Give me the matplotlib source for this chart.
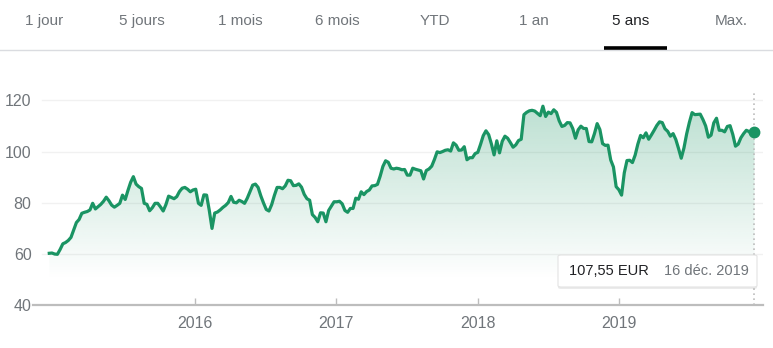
import matplotlib
matplotlib.use('Agg')
import matplotlib.pyplot as plt
import matplotlib.dates as mdates
from matplotlib.patches import FancyBboxPatch
from matplotlib.lines import Line2D
import numpy as np
import pandas as pd

plt.rcParams['font.family'] = ['Liberation Sans', 'DejaVu Sans']

# onglets de période
tabs = ['1 jour', '5 jours', '1 mois', '6 mois', 'YTD', '1 an', '5 ans', 'Max.']
active_tab = '5 ans'

# cours hebdomadaire (EUR)
prices = [
    60.3, 60.4, 60.0, 59.9, 61.8, 64.0, 64.5, 65.3, 66.5, 69.4,
    72.3, 73.5, 75.9, 76.3, 76.6, 77.2, 79.8, 77.6, 78.5, 79.4,
    80.6, 82.2, 80.8, 79.1, 78.3, 79.0, 79.8, 83.0, 81.3, 84.8,
    88.0, 90.2, 87.3, 86.3, 85.6, 79.8, 79.4, 76.9, 78.1, 79.8,
    79.8, 78.4, 76.8, 79.3, 82.6, 82.1, 81.6, 82.4, 84.4, 85.7,
    86.0, 85.3, 84.3, 85.0, 85.3, 79.8, 79.0, 83.1, 83.0, 77.0,
    70.0, 76.0, 76.4, 77.2, 78.2, 79.0, 80.1, 82.5, 80.2, 80.0,
    81.0, 80.5, 79.8, 81.8, 84.3, 86.9, 87.3, 86.0, 82.7, 79.9,
    77.4, 76.8, 79.3, 82.9, 86.0, 86.0, 85.5, 86.6, 88.8, 88.6,
    86.7, 86.8, 87.4, 86.1, 83.3, 81.6, 81.0, 75.4, 74.3, 72.6,
    76.1, 76.0, 72.6, 77.0, 78.7, 80.4, 80.4, 80.6, 79.6, 77.0,
    76.3, 77.8, 77.8, 81.8, 81.4, 84.3, 83.2, 84.4, 85.0, 86.6,
    86.7, 87.2, 90.4, 94.2, 96.4, 95.8, 93.5, 93.2, 93.5, 93.3,
    92.9, 93.0, 90.8, 90.8, 93.5, 93.1, 92.8, 92.5, 89.3, 92.6,
    93.2, 94.3, 96.9, 99.9, 99.6, 100.0, 100.5, 100.7, 100.2, 103.4,
    102.5, 100.5, 100.6, 101.9, 96.8, 97.6, 97.6, 99.2, 99.7, 102.8,
    106.2, 108.1, 106.6, 103.0, 98.7, 104.2, 99.5, 104.0, 106.0, 105.2,
    103.5, 101.7, 102.6, 104.3, 104.8, 114.4, 115.3, 115.9, 116.1, 115.8,
    114.9, 114.0, 117.7, 113.7, 115.4, 114.8, 116.3, 115.3, 112.0, 109.8,
    110.2, 111.3, 111.2, 109.0, 105.2, 108.5, 109.9, 109.0, 109.0, 103.9,
    103.8, 107.0, 110.9, 108.6, 103.1, 102.4, 102.5, 96.7, 94.0, 86.3,
    85.1, 83.0, 91.7, 96.5, 96.6, 95.7, 98.6, 102.9, 106.3, 105.4,
    107.3, 104.8, 106.5, 108.3, 110.2, 111.6, 111.3, 108.9, 107.9, 106.0,
    107.0, 104.7, 101.2, 97.4, 101.4, 106.9, 111.4, 115.2, 114.4, 114.5,
    114.6, 112.5, 110.0, 105.6, 106.4, 111.2, 113.0, 108.3, 108.3, 107.7,
    109.8, 110.1, 106.7, 102.1, 102.9, 105.4, 107.0, 108.3, 107.8, 106.7,
    107.55,
]
dates = pd.date_range(end='2019-12-16', periods=len(prices), freq='W-MON')

y_ticks = [40, 60, 80, 100, 120]
x_years = [2016, 2017, 2018, 2019]
months_fr = ['janv.', 'févr.', 'mars', 'avr.', 'mai', 'juin', 'juil.',
             'août', 'sept.', 'oct.', 'nov.', 'déc.']

green = '#1a9463'
grey_txt = '#70757a'
dark_txt = '#202124'

W, H = 773, 348
fig = plt.figure(figsize=(W / 100, H / 100), dpi=100)

# --- onglets ---
tab_x = [44, 142, 240, 337, 435, 534, 631, 731]
for t, x in zip(tabs, tab_x):
    fig.text(x / W, 1 - 21 / H, t, ha='center', va='center', fontsize=11,
             color=dark_txt if t == active_tab else grey_txt)
fig.add_artist(Line2D([0, 1], [1 - 49.5 / H] * 2, color='#dadce0', lw=1))
fig.add_artist(Line2D([604 / W, 667 / W], [1 - 47.5 / H] * 2, color='black', lw=2.6,
                      solid_capstyle='butt'))

# --- graphique ---
ax = fig.add_axes([33 / W, (H - 305.3) / H, (763 - 33) / W, (305.3 - 87.5) / H])
x = mdates.date2num(dates)
y = np.array(prices)
ax.set_xlim(mdates.date2num(pd.Timestamp('2014-11-10')),
            mdates.date2num(pd.Timestamp('2020-01-07')))
ax.set_ylim(40, 125)

for v in y_ticks[1:]:
    ax.axhline(v, xmin=0.012, color='#f1f1f1', lw=1, zorder=0)

# dégradé sous la courbe
poly = ax.fill_between(x, y, 40, color='none', lw=0)
grad = np.zeros((200, 2, 4))
grad[:, :, 0] = 0x1a / 255
grad[:, :, 1] = 0x94 / 255
grad[:, :, 2] = 0x63 / 255
alpha = np.clip((np.linspace(40, 125, 200) - 50) / 70, 0, 1) * 0.30
grad[:, :, 3] = alpha[:, None]
im = ax.imshow(grad, origin='lower', aspect='auto', interpolation='bilinear',
               extent=[x[0], x[-1], 40, 125], zorder=1)
im.set_clip_path(poly.get_paths()[0], transform=ax.transData)

ax.plot(x, y, color=green, lw=2.3, zorder=3, solid_joinstyle='round')
ax.plot(x[-1], y[-1], 'o', color=green, ms=7.5, zorder=4)
ax.vlines(x[-1], 40, 123, color='#bdbdbd', lw=1.2, linestyles=(0, (1, 2)), zorder=2)

for s in ['top', 'right', 'left']:
    ax.spines[s].set_visible(False)
ax.spines['bottom'].set_color('#bdbdbd')
ax.spines['bottom'].set_linewidth(1.6)

ax.set_yticks(y_ticks)
ax.set_yticklabels([str(v) for v in y_ticks])
ax.tick_params(axis='y', length=0, pad=1, labelsize=11.5, labelcolor=grey_txt)
ax.set_xticks([mdates.date2num(pd.Timestamp(f'{yr}-01-01')) for yr in x_years])
ax.set_xticklabels([str(yr) for yr in x_years])
ax.tick_params(axis='x', direction='in', length=5, width=1, color='#bdbdbd',
               pad=8, labelsize=11.5, labelcolor=grey_txt)

# --- info-bulle ---
bx0, bx1, by0, by1 = 558, 757, 255, 287
shadow = FancyBboxPatch((bx0 / W, 1 - (by1 + 2) / H), (bx1 - bx0) / W, (by1 - by0) / H,
                        boxstyle='round,pad=0,rounding_size=0.004', transform=fig.transFigure,
                        fc='#000000', alpha=0.08, ec='none', zorder=5)
box = FancyBboxPatch((bx0 / W, 1 - by1 / H), (bx1 - bx0) / W, (by1 - by0) / H,
                     boxstyle='round,pad=0,rounding_size=0.004', transform=fig.transFigure,
                     fc='white', ec='#e3e3e3', lw=0.8, zorder=6)
fig.add_artist(shadow)
fig.add_artist(box)
last = dates[-1]
price_txt = f'{prices[-1]:.2f}'.replace('.', ',') + ' EUR'
date_txt = f'{last.day} {months_fr[last.month - 1]} {last.year}'
fig.text(569 / W, 1 - 271 / H, price_txt, ha='left', va='center', fontsize=10.5,
         color=dark_txt, zorder=7)
fig.text(749 / W, 1 - 271 / H, date_txt, ha='right', va='center', fontsize=10.5,
         color=grey_txt, zorder=7)

fig.savefig('out.png', dpi=100)
